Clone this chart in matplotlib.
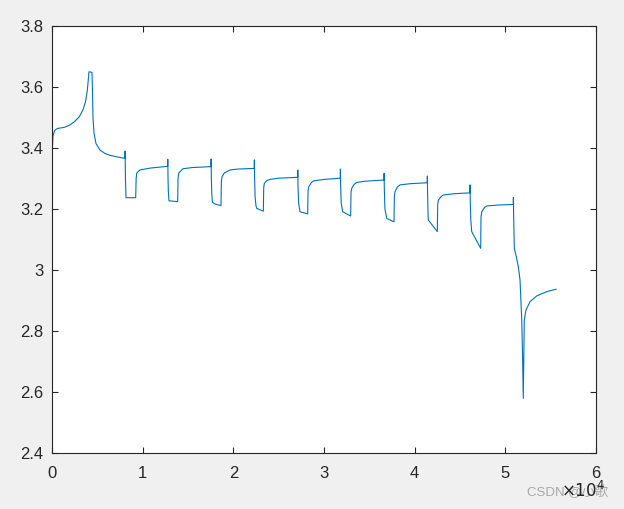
import numpy as np
import matplotlib
matplotlib.use("Agg")
import matplotlib.pyplot as plt

# time in units of 1e4 s, voltage in V
t_e4 = [
    0.000, 0.005, 0.011, 0.030, 0.060, 0.140, 0.200, 0.250, 0.300, 0.340, 0.370, 0.390, 0.400, 0.408,
    0.441, 0.447, 0.452, 0.463, 0.485, 0.530, 0.585, 0.640, 0.730, 0.805,
    0.806, 0.808, 0.810, 0.816, 0.923, 0.928, 0.935, 0.970, 1.080, 1.276,
    1.277, 1.279, 1.283, 1.290, 1.386, 1.390, 1.398, 1.445, 1.550, 1.754,
    1.755, 1.757, 1.762, 1.770, 1.800, 1.864, 1.868, 1.876, 1.900, 1.963, 2.050, 2.231,
    2.232, 2.234, 2.240, 2.250, 2.258, 2.331, 2.335, 2.342, 2.370, 2.404, 2.500, 2.710,
    2.711, 2.713, 2.720, 2.735, 2.820, 2.824, 2.832, 2.860, 2.882, 3.000, 3.180,
    3.181, 3.183, 3.190, 3.206, 3.294, 3.298, 3.306, 3.330, 3.361, 3.450, 3.662,
    3.663, 3.665, 3.672, 3.692, 3.772, 3.776, 3.784, 3.810, 3.838, 3.950, 4.139,
    4.140, 4.142, 4.146, 4.150, 4.200, 4.250, 4.254, 4.262, 4.290, 4.316, 4.430, 4.610,
    4.611, 4.613, 4.620, 4.629, 4.680, 4.728, 4.732, 4.740, 4.770, 4.794, 4.920, 5.088,
    5.089, 5.091, 5.095, 5.099, 5.120, 5.143, 5.162, 5.172, 5.181, 5.190, 5.198,
    5.203, 5.209, 5.228, 5.272, 5.346, 5.456, 5.559,
]
voltage = [
    3.318, 3.400, 3.440, 3.458, 3.464, 3.468, 3.476, 3.487, 3.502, 3.524, 3.552, 3.590, 3.625, 3.650,
    3.648, 3.580, 3.500, 3.450, 3.415, 3.393, 3.382, 3.376, 3.370, 3.366,
    3.390, 3.339, 3.300, 3.237, 3.237, 3.300, 3.318, 3.328, 3.334, 3.340,
    3.363, 3.311, 3.260, 3.227, 3.224, 3.300, 3.318, 3.332, 3.336, 3.339,
    3.364, 3.311, 3.250, 3.222, 3.216, 3.211, 3.290, 3.306, 3.318, 3.328, 3.331, 3.333,
    3.361, 3.306, 3.240, 3.210, 3.202, 3.193, 3.270, 3.284, 3.293, 3.297, 3.301, 3.304,
    3.328, 3.279, 3.220, 3.191, 3.184, 3.260, 3.273, 3.286, 3.292, 3.297, 3.301,
    3.331, 3.280, 3.220, 3.191, 3.177, 3.255, 3.268, 3.280, 3.287, 3.291, 3.295,
    3.317, 3.270, 3.200, 3.169, 3.158, 3.240, 3.257, 3.272, 3.279, 3.283, 3.286,
    3.308, 3.262, 3.200, 3.164, 3.145, 3.126, 3.215, 3.229, 3.240, 3.246, 3.250, 3.253,
    3.279, 3.229, 3.160, 3.126, 3.098, 3.071, 3.175, 3.191, 3.205, 3.210, 3.213, 3.215,
    3.238, 3.188, 3.120, 3.071, 3.045, 3.011, 2.967, 2.900, 2.836, 2.720, 2.579,
    2.700, 2.836, 2.869, 2.896, 2.915, 2.929, 2.937,
]
x_ticks_e4 = [0, 1, 2, 3, 4, 5, 6]
y_ticks = [2.4, 2.6, 2.8, 3.0, 3.2, 3.4, 3.6, 3.8]
y_tick_labels = ["2.4", "2.6", "2.8", "3", "3.2", "3.4", "3.6", "3.8"]

plt.rcParams['font.family'] = ['Liberation Sans', 'Noto Sans CJK SC', 'DejaVu Sans']

fig = plt.figure(figsize=(6.24, 5.09), dpi=100, facecolor='#f0f0f0')
ax = fig.add_axes([52/624, 1-453/509, 544/624, 427/509])
ax.set_facecolor('white')

t = np.array(t_e4) * 1e4
ax.plot(t, voltage, color='#0072BD', linewidth=0.8)

ax.set_xlim(0, 6e4)
ax.set_ylim(2.4, 3.8)
ax.set_xticks([v * 1e4 for v in x_ticks_e4])
ax.set_xticklabels([str(v) for v in x_ticks_e4])
ax.set_yticks(y_ticks)
ax.set_yticklabels(y_tick_labels)

dark = '#262626'
for s in ax.spines.values():
    s.set_color(dark)
    s.set_linewidth(0.8)
ax.tick_params(direction='in', length=4, width=0.8, colors=dark, labelsize=12,
               top=True, right=True)
ax.tick_params(axis='x', pad=9)
ax.tick_params(axis='y', pad=6)

ax.text(0.948, -0.092, 'CSDN @小歌', transform=ax.transAxes, fontsize=9.5,
        color='#a8a8a8', ha='center', va='center')
ax.text(0.976, -0.086, r'$\times10^{4}$', transform=ax.transAxes, fontsize=12,
        color=dark, ha='center', va='center')

fig.savefig('out.png', dpi=100, facecolor=fig.get_facecolor())
